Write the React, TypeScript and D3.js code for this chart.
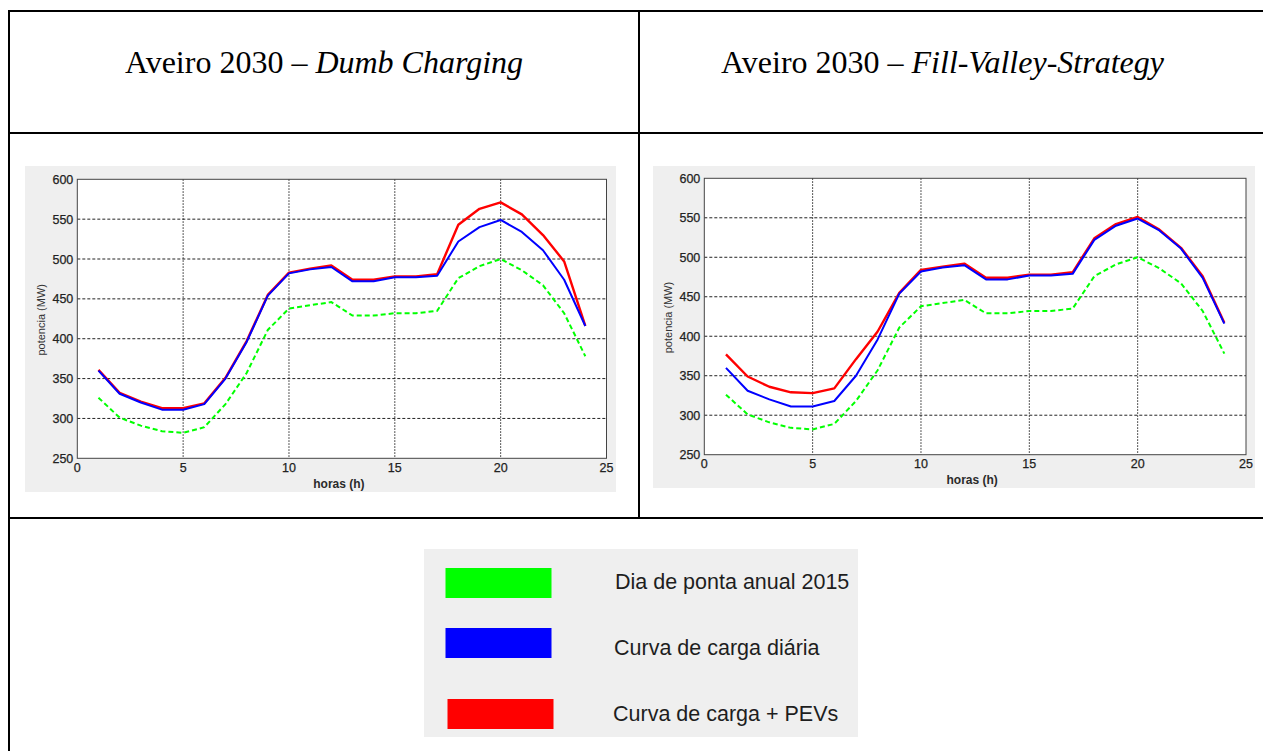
import React from "react";
import * as d3 from "d3";

// Hourly load profiles for Aveiro (MW), hours 1..24
const hours = d3.range(1, 25);
const peakDay2015 = [326, 301, 291, 284, 282, 289, 318, 357, 411, 438, 442, 446, 429, 429, 432, 432, 435, 476, 491, 500, 486, 467, 432, 378];
const dailyLoad2030 = [360, 331, 320, 311, 311, 318, 350, 396, 454, 482, 487, 490, 472, 472, 477, 477, 479, 522, 540, 549, 534, 511, 474, 416];
const loadPlusPevDumb = [361, 332, 321, 313, 313, 319, 351, 397, 455, 483, 488, 492, 474, 474, 478, 478, 481, 543, 563, 571, 556, 530, 497, 416];
const loadPlusPevFillValley = [377, 349, 336, 329, 328, 334, 371, 406, 455, 484, 488, 492, 474, 474, 478, 478, 481, 524, 542, 551, 535, 512, 476, 417];

const xTicks = [0, 5, 10, 15, 20, 25];
const yTicks = [250, 300, 350, 400, 450, 500, 550, 600];

const titles = ["Dumb Charging", "Fill-Valley-Strategy"];
const legendLabels = ["Dia de ponta anual 2015", "Curva de carga diária", "Curva de carga + PEVs"];
const seriesColors = ["#00ff00", "#0000ff", "#ff0000"];

type Box = { x0: number; y0: number; x1: number; y1: number };

function LoadChart({ panel, plot, pev }: { panel: Box; plot: Box; pev: number[] }) {
  const x = d3.scaleLinear().domain([0, 25]).range([plot.x0, plot.x1]);
  const y = d3.scaleLinear().domain([250, 600]).range([plot.y1, plot.y0]);
  const line = d3
    .line<number>()
    .x((_, i) => x(hours[i]))
    .y((d) => y(d));
  const cx = (plot.x0 + plot.x1) / 2;
  const cy = (plot.y0 + plot.y1) / 2;
  const font = "Arial, 'Liberation Sans', Helvetica, sans-serif";
  return (
    <g>
      <rect x={panel.x0} y={panel.y0} width={panel.x1 - panel.x0} height={panel.y1 - panel.y0} fill="#efefef" />
      <rect x={plot.x0} y={plot.y0} width={plot.x1 - plot.x0} height={plot.y1 - plot.y0} fill="#ffffff" />
      {/* grid */}
      {yTicks.slice(1, -1).map((t) => (
        <line key={"h" + t} x1={plot.x0} x2={plot.x1} y1={y(t)} y2={y(t)} stroke="#222" strokeWidth={1} strokeDasharray="3,2" />
      ))}
      {xTicks.slice(1, -1).map((t) => (
        <line key={"v" + t} x1={x(t)} x2={x(t)} y1={plot.y0} y2={plot.y1} stroke="#222" strokeWidth={1} strokeDasharray="1.5,1.5" />
      ))}
      {/* series */}
      <path d={line(peakDay2015) || ""} fill="none" stroke={seriesColors[0]} strokeWidth={2} strokeDasharray="5,3" />
      <path d={line(pev) || ""} fill="none" stroke={seriesColors[2]} strokeWidth={2.4} strokeLinejoin="round" />
      <path d={line(dailyLoad2030) || ""} fill="none" stroke={seriesColors[1]} strokeWidth={2} strokeLinejoin="round" />
      {/* axes box */}
      <rect x={plot.x0} y={plot.y0} width={plot.x1 - plot.x0} height={plot.y1 - plot.y0} fill="none" stroke="#444" strokeWidth={1} />
      {yTicks.map((t) => (
        <text key={"yl" + t} x={plot.x0 - 4} y={y(t) + 4.5} textAnchor="end" fontFamily={font} fontSize={12.5} fill="#222" stroke="#222" strokeWidth={0.25}>
          {t}
        </text>
      ))}
      {xTicks.map((t) => (
        <text key={"xl" + t} x={x(t)} y={plot.y1 + 13.5} textAnchor="middle" fontFamily={font} fontSize={12.5} fill="#222" stroke="#222" strokeWidth={0.25}>
          {t}
        </text>
      ))}
      <text x={cx - 3} y={plot.y1 + 29.5} textAnchor="middle" fontFamily={font} fontSize={12} fontWeight="bold" fill="#2a2a2a">
        horas (h)
      </text>
      <text
        transform={`translate(${plot.x0 - 36},${cy + 1}) rotate(-90)`}
        textAnchor="middle"
        dominantBaseline="central"
        fontFamily={font}
        fontSize={11}
        fill="#333"
      >
        potencia (MW)
      </text>
    </g>
  );
}

export default function App() {
  const serif = "'Liberation Serif', 'Times New Roman', serif";
  const sans = "Arial, 'Liberation Sans', Helvetica, sans-serif";
  const swatchY = [568, 628, 699];
  const labelBaseline = [588.5, 655, 721];
  return (
    <svg width={1263} height={751} style={{ position: "absolute", left: 0, top: 0, background: "#fff" }}>
      {/* table rules */}
      <g stroke="#000" strokeWidth={2}>
        <line x1={8} x2={1263} y1={11} y2={11} />
        <line x1={9} x2={9} y1={10} y2={751} />
        <line x1={8} x2={1263} y1={133} y2={133} />
        <line x1={639} x2={639} y1={10} y2={518} />
        <line x1={8} x2={1263} y1={518} y2={518} />
      </g>
      {/* headers */}
      {titles.map((t, i) => (
        <text key={t} x={i === 0 ? 324 : 942.5} y={73} textAnchor="middle" fontFamily={serif} fontSize={32} fill="#000">
          Aveiro 2030 – <tspan fontStyle="italic">{t}</tspan>
        </text>
      ))}
      <LoadChart
        panel={{ x0: 25, y0: 166, x1: 616, y1: 492 }}
        plot={{ x0: 77.3, y0: 179.3, x1: 606.5, y1: 458.3 }}
        pev={loadPlusPevDumb}
      />
      <LoadChart
        panel={{ x0: 653, y0: 166, x1: 1255, y1: 488 }}
        plot={{ x0: 704.3, y0: 178.3, x1: 1246, y1: 454.7 }}
        pev={loadPlusPevFillValley}
      />
      {/* legend */}
      <rect x={424} y={549} width={434} height={188} fill="#efefef" />
      {legendLabels.map((l, i) => (
        <g key={l}>
          <rect x={i === 2 ? 447.5 : 445.5} y={swatchY[i]} width={106} height={30} fill={seriesColors[i]} />
          <text x={615 - i} y={labelBaseline[i]} fontFamily={sans} fontSize={21.5} fill="#1e1e1e">
            {l}
          </text>
        </g>
      ))}
    </svg>
  );
}
